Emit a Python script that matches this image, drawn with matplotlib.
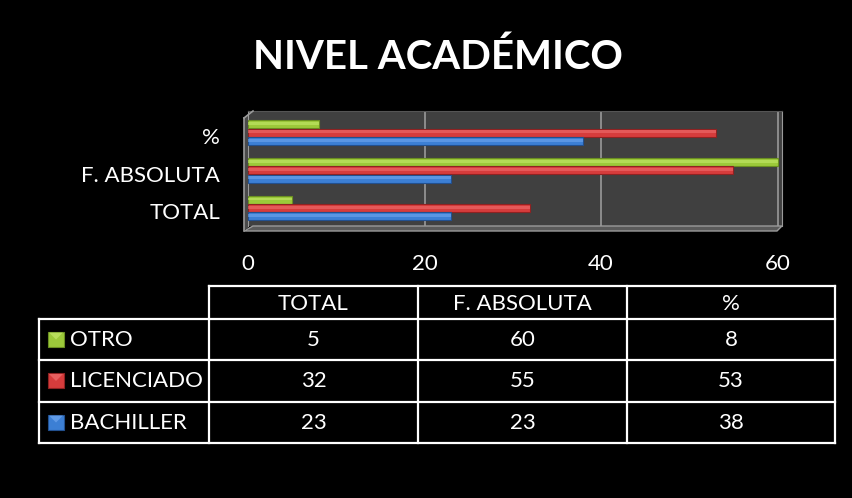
import numpy as np
import matplotlib.pyplot as plt
from matplotlib.patches import Polygon, Rectangle

# Data
categories = ['TOTAL', 'F. ABSOLUTA', '%']
series = ['OTRO', 'LICENCIADO', 'BACHILLER']
otro = [5, 60, 8]
licenciado = [32, 55, 53]
bachiller = [23, 23, 38]
xticks = [0, 20, 40, 60]

colors = {'OTRO': '#9cc93a', 'LICENCIADO': '#d63c3c', 'BACHILLER': '#3c7fd4'}
dark = {'OTRO': '#6b8f22', 'LICENCIADO': '#8f2222', 'BACHILLER': '#22508f'}
light = {'OTRO': '#c4e86a', 'LICENCIADO': '#ef6e6e', 'BACHILLER': '#6fa6ee'}

FONT = 'Lato'
FS = 16
W, H = 852, 498

fig = plt.figure(figsize=(W / 100, H / 100), dpi=100, facecolor='black')

def fx(px):
    return px / W

# main plot area (back wall)
left, right, top, bottom = 248, 782, 111, 226
ax = fig.add_axes([fx(left), 1 - bottom / H, fx(right - left), (bottom - top) / H])
ax.set_facecolor('#404040')

y = np.arange(len(categories))
offs = {'OTRO': 0.22, 'LICENCIADO': 0.0, 'BACHILLER': -0.22}
vals = {'OTRO': otro, 'LICENCIADO': licenciado, 'BACHILLER': bachiller}
bh = 0.21
for s in series:
    ax.barh(y + offs[s], vals[s], height=bh, color=colors[s],
            edgecolor=dark[s], linewidth=0.8, zorder=3)
    ax.barh(y + offs[s] + 0.02, vals[s], height=bh * 0.35, color=light[s],
            linewidth=0, zorder=4, alpha=0.6)

ax.set_xlim(0, 60.5)
ax.set_ylim(-0.477, 2.573)
ax.set_xticks(xticks)
ax.set_xticklabels([str(t) for t in xticks])
ax.set_yticks(y - 0.09)
ax.set_yticklabels(categories)
ax.tick_params(axis='both', length=0, colors='white', labelsize=FS)
ax.tick_params(axis='x', pad=20)
ax.tick_params(axis='y', pad=20)
for lab in ax.get_xticklabels() + ax.get_yticklabels():
    lab.set_fontfamily(FONT)
ax.grid(axis='x', color='#9a9a9a', linewidth=1.2, zorder=1)
for sp in ax.spines.values():
    sp.set_visible(False)
for side in ('left', 'right'):
    ax.spines[side].set_visible(True)
    ax.spines[side].set_color('#9a9a9a')
ax.spines['top'].set_visible(True)
ax.spines['top'].set_color('#555555')

# overlay for 3D floor and table, pixel coordinates
ov = fig.add_axes([0, 0, 1, 1], facecolor='none')
ov.set_xlim(0, W)
ov.set_ylim(H, 0)
ov.axis('off')

floor = Polygon([(253, 226), (782, 226), (777, 231), (244, 231)],
                closed=True, facecolor='#5a5a5a', edgecolor='#9a9a9a', linewidth=1)
ov.add_patch(floor)
ov.add_patch(Polygon([(244, 118), (248, 114), (248, 228), (244, 231)],
                     closed=True, facecolor='#4a4a4a', edgecolor='none'))
ov.plot([244, 244], [118, 231], color='#9a9a9a', lw=1.2)
ov.plot([244, 253], [118, 111], color='#9a9a9a', lw=1.2)

# title
ov.text(438, 57, 'NIVEL ACADÉMICO', color='white', fontsize=29, fontweight='bold',
        family=FONT, ha='center', va='center')

# data table
col_edges = [39, 209, 418, 627, 835]
row_edges = [286, 319, 360, 402, 443]
lw = 1.6
ov.plot([col_edges[1], col_edges[-1]], [row_edges[0]] * 2, color='white', lw=lw)
for r in row_edges[1:]:
    ov.plot([col_edges[0], col_edges[-1]], [r, r], color='white', lw=lw)
ov.plot([col_edges[0]] * 2, [row_edges[1], row_edges[-1]], color='white', lw=lw)
for c in col_edges[1:]:
    ov.plot([c, c], [row_edges[0], row_edges[-1]], color='white', lw=lw)

for j, cat in enumerate(categories):
    cx = (col_edges[j + 1] + col_edges[j + 2]) / 2
    ov.text(cx, (row_edges[0] + row_edges[1]) / 2 + 1, cat, color='white',
            fontsize=FS, family=FONT, ha='center', va='center')

for i, s in enumerate(series):
    cy = (row_edges[i + 1] + row_edges[i + 2]) / 2
    # legend key
    ov.add_patch(Rectangle((48, cy - 8), 16, 15, facecolor=colors[s],
                           edgecolor=dark[s], lw=0.8))
    ov.add_patch(Polygon([(49, cy - 7), (63, cy - 7), (56, cy)], closed=True,
                         facecolor=light[s], edgecolor='none', alpha=0.7))
    ov.text(70, cy, s, color='white', fontsize=FS, family=FONT,
            ha='left', va='center')
    for j in range(len(categories)):
        cx = (col_edges[j + 1] + col_edges[j + 2]) / 2
        ov.text(cx, cy, str(vals[s][j]), color='white', fontsize=FS,
                family=FONT, ha='center', va='center')

fig.savefig('out.png', dpi=100, facecolor='black')
